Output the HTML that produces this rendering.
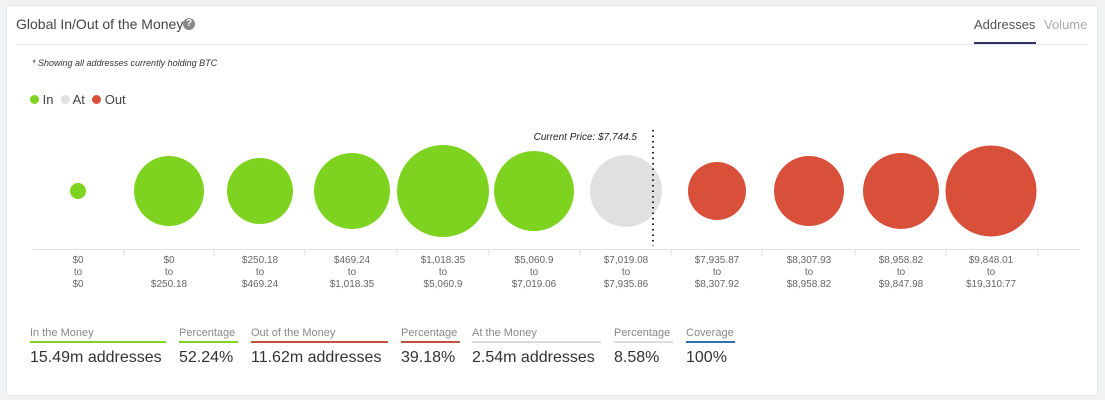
<!DOCTYPE html>
<html><head><style>
body{margin:0;width:1105px;height:400px;background:#f1f2f4;font-family:"Liberation Sans",sans-serif;overflow:hidden;position:relative}
.card{position:absolute;left:6px;top:5px;width:1090px;height:389px;background:#fff;border:1px solid #e3e5e8;border-radius:3px}
.t{position:absolute;white-space:nowrap}
.lab{position:absolute;top:255px;width:90px;text-align:center;font-size:10px;line-height:12px;color:#666}
.sl{position:absolute;top:327px;font-size:11px;color:#888;padding-bottom:2px;white-space:nowrap}
.sv{position:absolute;top:349px;font-size:16px;color:#333;white-space:nowrap}
</style></head><body>
<div class="card"></div>
<div class="t" style="left:16px;top:16px;font-size:14px;color:#444">Global In/Out of the Money</div>
<div class="t" style="left:183px;top:18px;width:12px;height:12px;border-radius:6px;background:#888;color:#fff;font-size:10px;font-weight:bold;text-align:center;line-height:12px">?</div>
<div class="t" style="left:16px;top:44px;width:1072px;height:1px;background:#e3e3e3"></div>
<div class="t" style="left:974px;top:17px;font-size:13px;color:#555">Addresses</div>
<div class="t" style="left:974px;top:42px;width:62px;height:2px;background:#2c3566"></div>
<div class="t" style="left:1044px;top:17px;font-size:13px;color:#aaa">Volume</div>
<div class="t" style="left:32px;top:58px;font-size:9px;font-style:italic;color:#333">* Showing all addresses currently holding BTC</div>
<div class="t" style="left:30px;top:92px;font-size:13px;color:#444"><span style="display:inline-block;width:9px;height:9px;border-radius:5px;background:#7ed321"></span> In &nbsp;<span style="display:inline-block;width:9px;height:9px;border-radius:5px;background:#e0e0e0"></span> At &nbsp;<span style="display:inline-block;width:9px;height:9px;border-radius:5px;background:#d9503a"></span> Out</div>
<svg class="t" style="left:0;top:0" width="1105" height="300">
<g fill="#7ed321">
<circle cx="78" cy="191" r="8"/><circle cx="169" cy="191" r="35"/><circle cx="260" cy="191" r="33"/>
<circle cx="352" cy="191" r="38"/><circle cx="443" cy="191" r="46"/><circle cx="534" cy="191" r="40"/></g>
<circle cx="626" cy="191" r="36" fill="#e0e0e0"/>
<g fill="#d9503a"><circle cx="717" cy="191" r="29"/><circle cx="809" cy="191" r="35"/><circle cx="901" cy="191" r="38"/><circle cx="991" cy="191" r="45.5"/></g>
<line x1="653" y1="130" x2="653" y2="246" stroke="#222" stroke-width="2" stroke-dasharray="1.5,4"/>
<text x="637" y="140" text-anchor="end" font-size="10" font-style="italic" fill="#222" font-family="Liberation Sans">Current Price: $7,744.5</text>
<line x1="33" y1="249.5" x2="1080" y2="249.5" stroke="#e2e2e2"/>
<g stroke="#e2e2e2"><line x1="124" y1="250" x2="124" y2="256"/><line x1="214" y1="250" x2="214" y2="256"/><line x1="305" y1="250" x2="305" y2="256"/><line x1="397" y1="250" x2="397" y2="256"/><line x1="489" y1="250" x2="489" y2="256"/><line x1="580" y1="250" x2="580" y2="256"/><line x1="671" y1="250" x2="671" y2="256"/><line x1="762" y1="250" x2="762" y2="256"/><line x1="855" y1="250" x2="855" y2="256"/><line x1="946" y1="250" x2="946" y2="256"/><line x1="1038" y1="250" x2="1038" y2="256"/></g>
</svg>
<div class="lab" style="left:33px">$0<br>to<br>$0</div>
<div class="lab" style="left:124px">$0<br>to<br>$250.18</div>
<div class="lab" style="left:215px">$250.18<br>to<br>$469.24</div>
<div class="lab" style="left:307px">$469.24<br>to<br>$1,018.35</div>
<div class="lab" style="left:398px">$1,018.35<br>to<br>$5,060.9</div>
<div class="lab" style="left:489px">$5,060.9<br>to<br>$7,019.06</div>
<div class="lab" style="left:581px">$7,019.08<br>to<br>$7,935.86</div>
<div class="lab" style="left:672px">$7,935.87<br>to<br>$8,307.92</div>
<div class="lab" style="left:764px">$8,307.93<br>to<br>$8,958.82</div>
<div class="lab" style="left:856px">$8,958.82<br>to<br>$9,847.98</div>
<div class="lab" style="left:946px">$9,848.01<br>to<br>$19,310.77</div>
<div class="sl" style="left:30px;width:136px;border-bottom:2px solid #7ed321">In the Money</div>
<div class="sl" style="left:179px;width:59px;border-bottom:2px solid #7ed321">Percentage</div>
<div class="sl" style="left:251px;width:137px;border-bottom:2px solid #c0553d">Out of the Money</div>
<div class="sl" style="left:401px;width:59px;border-bottom:2px solid #c0553d">Percentage</div>
<div class="sl" style="left:472px;width:129px;border-bottom:2px solid #ddd">At the Money</div>
<div class="sl" style="left:614px;width:59px;border-bottom:2px solid #ddd">Percentage</div>
<div class="sl" style="left:686px;width:49px;border-bottom:2px solid #2f6fb5">Coverage</div>
<div class="sv" style="left:30px">15.49m addresses</div>
<div class="sv" style="left:179px">52.24%</div>
<div class="sv" style="left:251px">11.62m addresses</div>
<div class="sv" style="left:401px">39.18%</div>
<div class="sv" style="left:472px">2.54m addresses</div>
<div class="sv" style="left:614px">8.58%</div>
<div class="sv" style="left:686px">100%</div>
</body></html>
